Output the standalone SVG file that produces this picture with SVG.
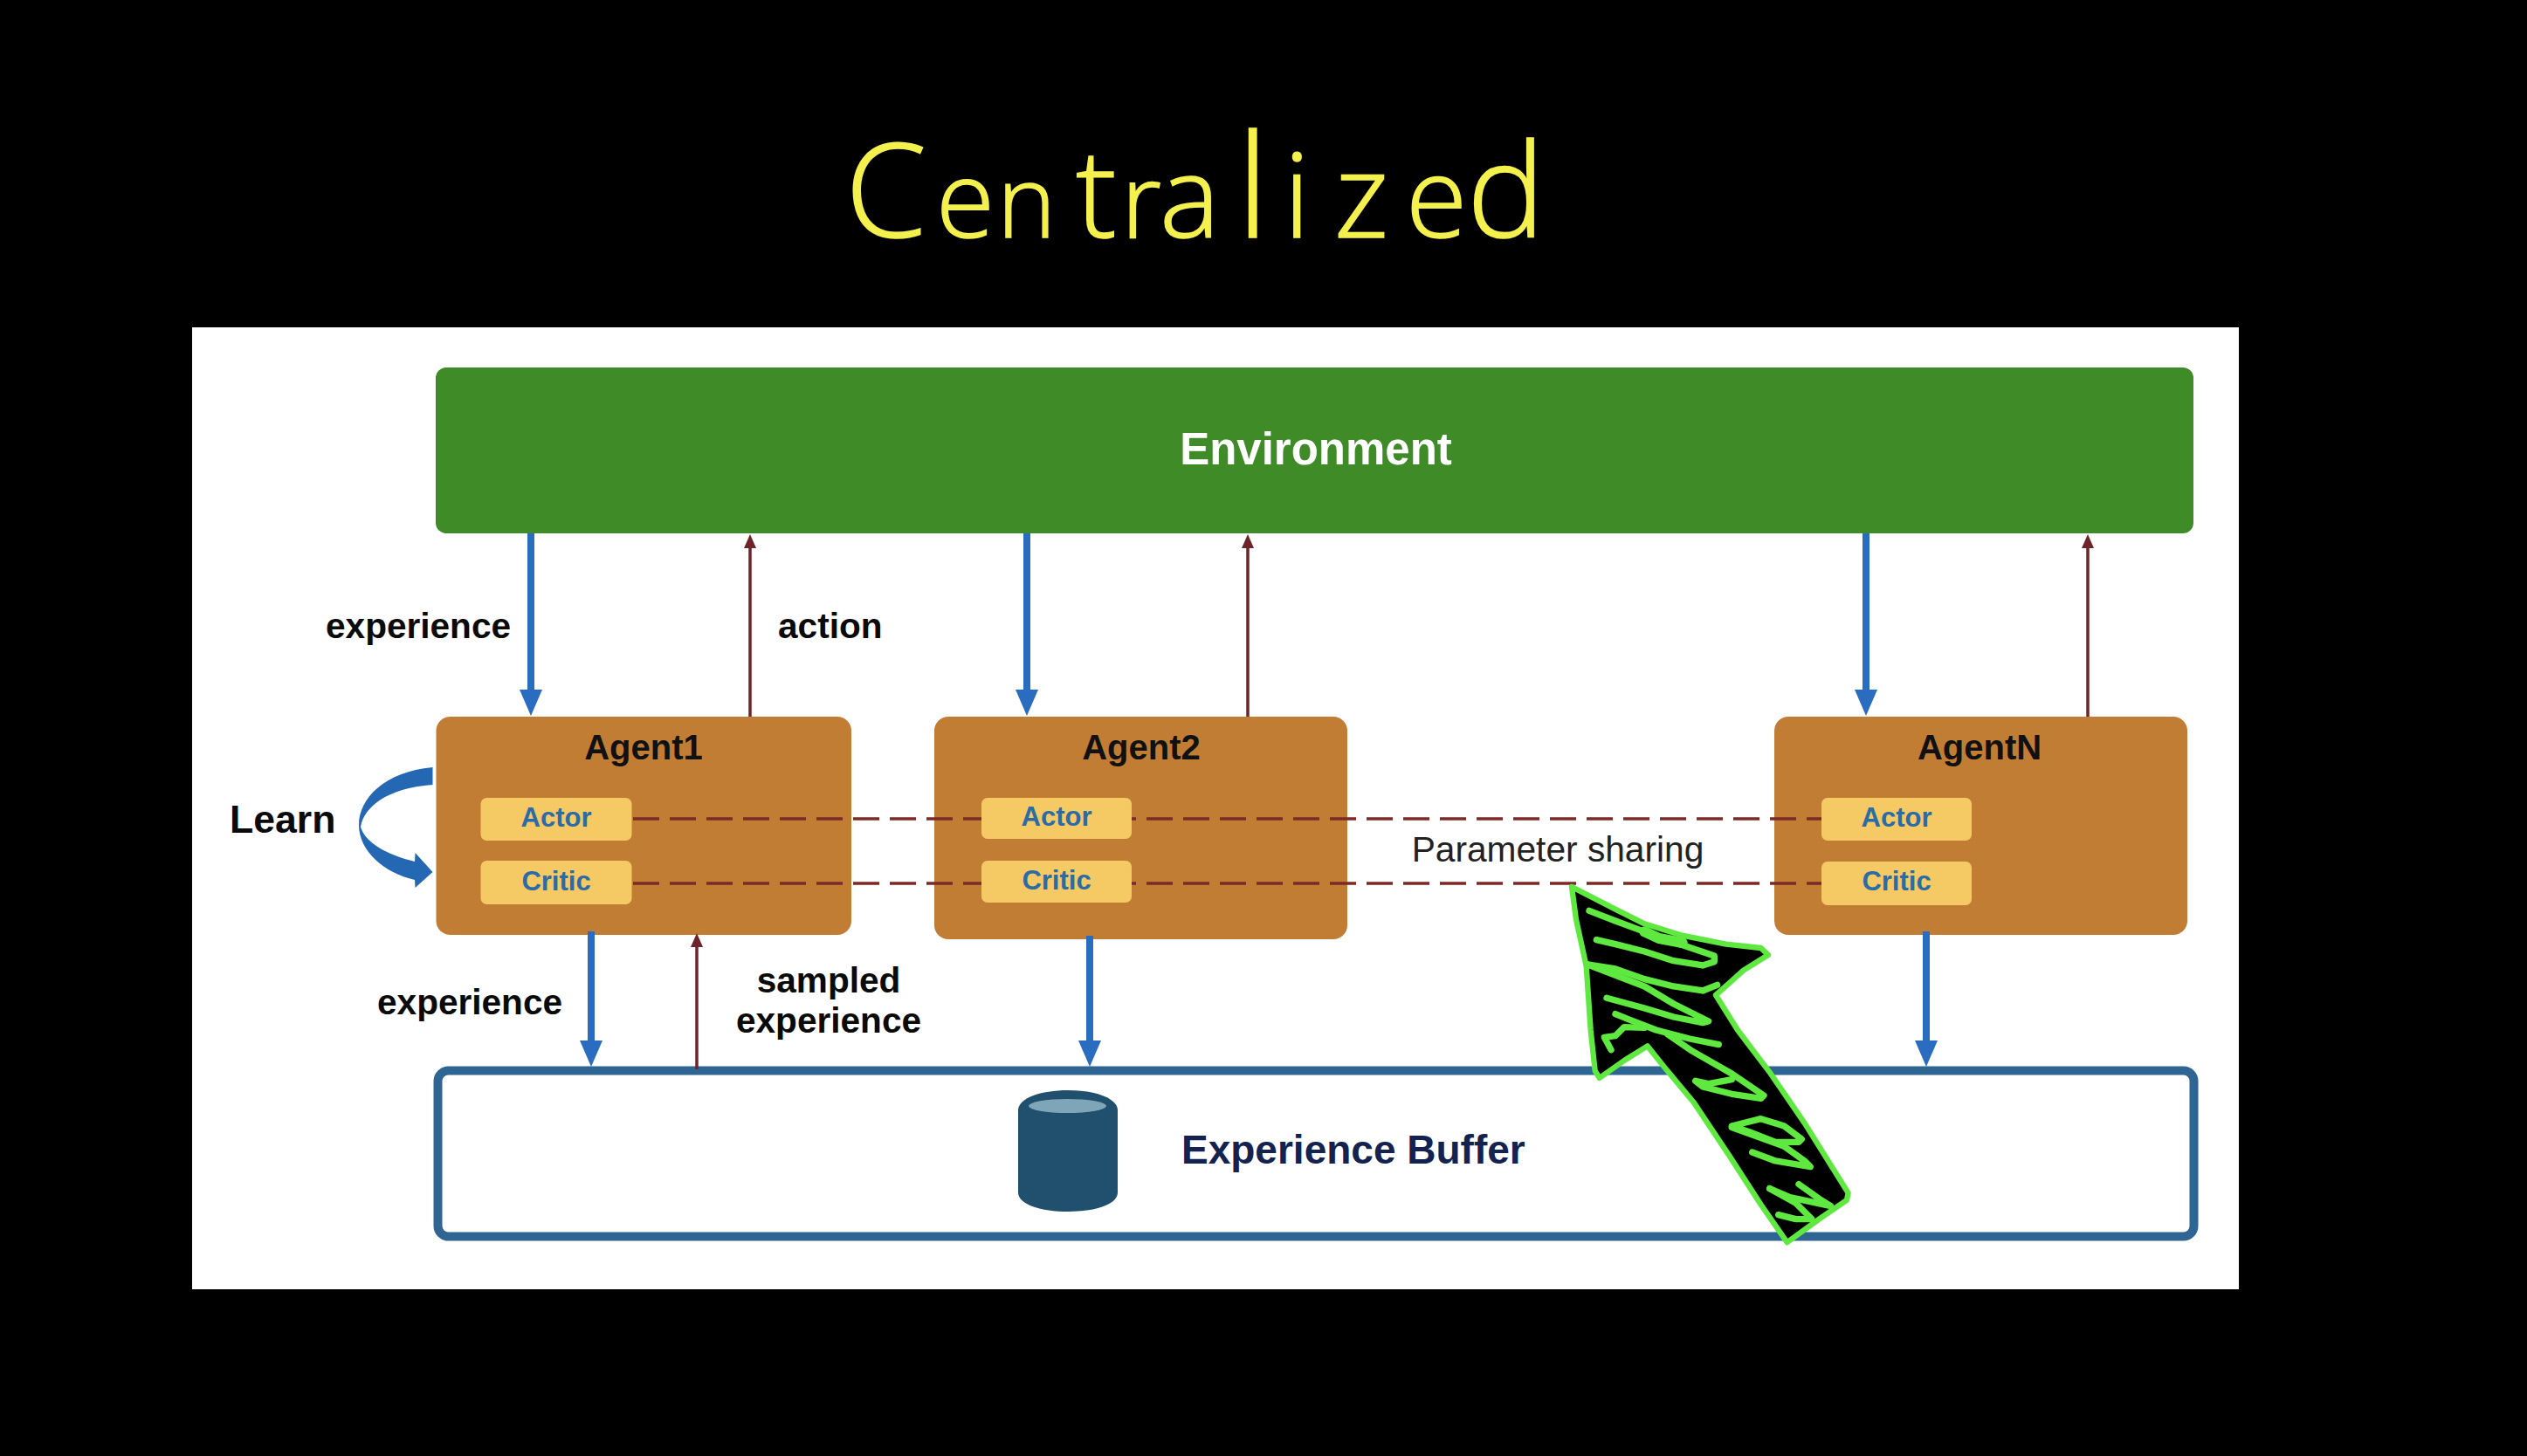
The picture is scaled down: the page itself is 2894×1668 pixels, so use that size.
<svg xmlns="http://www.w3.org/2000/svg" width="2894" height="1668" viewBox="0 0 2894 1668">
<style>
text{font-family:"Liberation Sans",Arial,sans-serif}
.b{font-weight:700}
.lbl{font-weight:700;font-size:40.6px;fill:#0a0a0a}
.agent{fill:#c27d35}
.sub{fill:#f5c964}
.subt{font-weight:700;font-size:31px;fill:#2b6ba6;text-anchor:middle}
.agt{font-weight:700;font-size:40px;fill:#111;text-anchor:middle}
.blue{stroke:#2a6cc0;stroke-width:8;fill:none;marker-end:url(#hb)}
.red{stroke:#6e2529;stroke-width:3.5;fill:none;marker-end:url(#hr)}
.dash{stroke:#7c2a25;stroke-width:3.5;stroke-dasharray:30 12;fill:none}
.sc{fill:none;stroke:#5fe83f;stroke-width:22;stroke-linecap:round;stroke-linejoin:round}
.ttl{font-family:"Open Sans","Liberation Sans",sans-serif;font-weight:300;fill:#f4f04e;stroke:#f4f04e;stroke-width:1.500}
</style>
<defs>
<marker id="hb" markerUnits="userSpaceOnUse" viewBox="-6 -14 30 28" refX="0" refY="0" markerWidth="30" markerHeight="28" orient="auto"><path d="M-6 -13L24 0L-6 13Z" fill="#2a6cc0"/></marker>
<marker id="hr" markerUnits="userSpaceOnUse" viewBox="-4 -8 20 16" refX="0" refY="0" markerWidth="20" markerHeight="16" orient="auto"><path d="M-4 -7L12 0L-4 7Z" fill="#6e2529"/></marker>
</defs>
<rect width="2894" height="1668" fill="#000"/>
<text id="title" class="ttl" y="272"><tspan x="968" font-size="150">C</tspan><tspan x="1072" font-size="122">e</tspan><tspan x="1142" font-size="114">n</tspan><tspan x="1232" font-size="140">t</tspan><tspan x="1284" font-size="118">r</tspan><tspan x="1328" font-size="130">a</tspan><tspan x="1416" font-size="165">l</tspan><tspan x="1470" font-size="135">i</tspan><tspan x="1528" font-size="135">z</tspan><tspan x="1610" font-size="128">e</tspan><tspan x="1680" font-size="150">d</tspan></text>
<rect id="panel" x="220" y="375" width="2344" height="1102" fill="#fff"/>
<g id="environment"><rect x="499" y="421" width="2013" height="190" rx="12" fill="#3f8b28"/><text class="b" x="1507" y="532" font-size="51" fill="#fff" text-anchor="middle">Environment</text></g>
<g id="agent1"><rect class="agent" x="499.5" y="821" width="475.5" height="250" rx="16"/><text class="agt" x="737" y="870">Agent1</text></g>
<g id="agent2"><rect class="agent" x="1070" y="821" width="473" height="255" rx="16"/><text class="agt" x="1307" y="870">Agent2</text></g>
<g id="agentN"><rect class="agent" x="2032" y="821" width="473" height="250" rx="16"/><text class="agt" x="2267" y="870">AgentN</text></g>
<g id="buffer"><rect x="501.500" y="1226.500" width="2011" height="190" rx="12" fill="#fff" stroke="#2e6593" stroke-width="10"/>
<path d="M1166 1272C1166 1258 1192 1249 1223 1249C1254 1249 1280 1258 1280 1272V1366C1280 1380 1254 1388 1223 1388C1192 1388 1166 1380 1166 1366Z" fill="#21506f"/><ellipse cx="1222.500" cy="1267" rx="44.500" ry="8" fill="#7fa5b8"/>
<text class="b" x="1353" y="1333" font-size="46" fill="#14224f">Experience Buffer</text></g>
<g id="connectors">
<line class="blue" x1="608" y1="611" x2="608" y2="796"/><line class="blue" x1="1176" y1="611" x2="1176" y2="796"/><line class="blue" x1="2137" y1="611" x2="2137" y2="796"/>
<line class="red" x1="859" y1="821" x2="859" y2="624"/><line class="red" x1="1429" y1="821" x2="1429" y2="624"/><line class="red" x1="2391" y1="821" x2="2391" y2="624"/>
<line class="blue" x1="677" y1="1067" x2="677" y2="1198"/><line class="blue" x1="1248" y1="1072" x2="1248" y2="1198"/><line class="blue" x1="2206" y1="1067" x2="2206" y2="1198"/>
<line class="red" x1="798" y1="1225" x2="798" y2="1081"/>
<line class="dash" x1="725" y1="938" x2="2086" y2="938"/><line class="dash" x1="725" y1="1012" x2="2086" y2="1012"/>
<path d="M495.500 879C440 884 411 915 411 945C411 975 440 1000 475 1008L475.500 1017L495.500 999L475.500 977L475 987C445 980 417 965 413 947C417 925 442 903 495.500 899Z" fill="#2468b4"/>
</g>
<g id="actor1"><rect class="sub" x="550.500" y="914" width="173" height="49" rx="7"/><text class="subt" x="637" y="947">Actor</text></g>
<g id="critic1"><rect class="sub" x="550.500" y="986" width="173" height="50" rx="7"/><text class="subt" x="637" y="1020">Critic</text></g>
<g id="actor2"><rect class="sub" x="1124" y="914" width="172" height="47" rx="7"/><text class="subt" x="1210" y="946">Actor</text></g>
<g id="critic2"><rect class="sub" x="1124" y="986" width="172" height="48" rx="7"/><text class="subt" x="1210" y="1019">Critic</text></g>
<g id="actorN"><rect class="sub" x="2086" y="914" width="172" height="49" rx="7"/><text class="subt" x="2172" y="947">Actor</text></g>
<g id="criticN"><rect class="sub" x="2086" y="987" width="172" height="50" rx="7"/><text class="subt" x="2172" y="1020">Critic</text></g>
<g id="labels">
<text class="lbl" x="373" y="731">experience</text>
<text class="lbl" x="891" y="731">action</text>
<text class="b" x="263" y="954" font-size="44.600" fill="#0a0a0a">Learn</text>
<text class="lbl" x="432" y="1162">experience</text>
<text class="lbl" x="949" y="1137" text-anchor="middle">sampled</text>
<text class="lbl" x="949" y="1183" text-anchor="middle">experience</text>
<text x="1784" y="987" font-size="40.700" fill="#222" text-anchor="middle">Parameter sharing</text>
</g>
<g id="highlight-arrow" transform="translate(1750,980) scale(.3333)">
<path d="M150 108L300 185L400 235L530 275L680 305L800 318L825 342L740 395L690 440L645 480L720 600L830 745L950 920L1100 1160L1095 1185L1000 1250L890 1330L800 1200L690 1030L570 850L470 730L410 655L330 705L245 765L230 740L215 600L200 380L165 220Z" fill="#000" stroke="#5fe83f" stroke-width="19" stroke-linejoin="round"/>
<path class="sc" d="M210 190L300 225L400 262L500 298L640 345L640 365L600 378L500 362L400 330L300 305L235 290"/>
<path class="sc" d="M400 262L450 285L530 300" style="stroke-width:36"/>
<path class="sc" d="M205 375L300 390L400 425L500 450L600 465L650 445"/>
<path class="sc" d="M205 375L400 450L500 510L620 570L600 575L500 555L400 525L270 490"/>
<path class="sc" d="M300 545L350 565L440 600L555 630L655 650"/>
<path class="sc" d="M400 592L330 590L300 620L262 625L285 668"/>
<path class="sc" d="M480 615L560 670L700 750L810 825L800 835L700 820L600 795L575 775L620 785L700 770"/>
<path class="sc" d="M700 930L760 950L850 985L930 985L940 975L880 930L800 905L720 925L700 930"/>
<path class="sc" d="M770 1020L850 1050L970 1070L950 1050L880 1000L700 935"/>
<path class="sc" d="M830 1145L900 1175L1040 1205L1000 1180L930 1130"/>
<path class="sc" d="M860 1235L920 1250L975 1250L920 1195L830 1145"/>
</g>
</svg>
